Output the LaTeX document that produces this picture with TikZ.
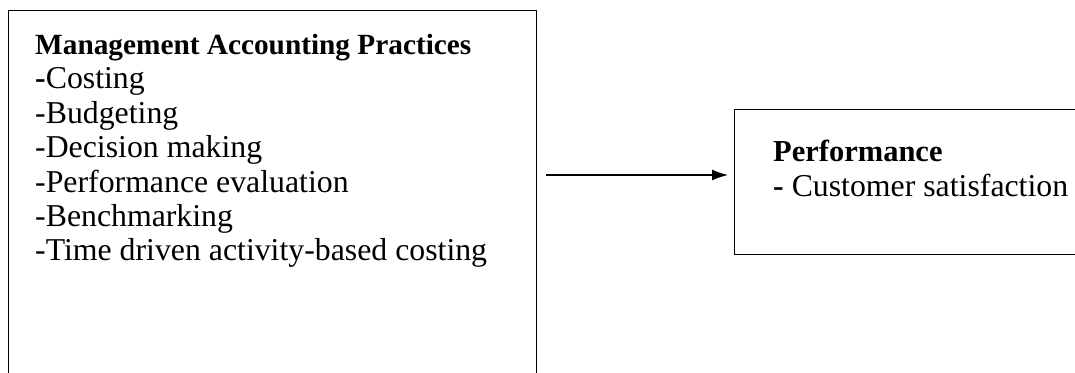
\documentclass[tikz,border=0pt]{standalone}
\usepackage{fontspec}
\setmainfont{Liberation Serif}
\usetikzlibrary{arrows.meta}
\tikzset{
  box/.style={draw, line width=1.3pt, anchor=north west, inner sep=0pt},
  boxtext/.style={anchor=north west, align=left, inner sep=0pt,
    font=\fontsize{31.8}{34.4}\selectfont}
}
\newcommand{\headline}[2]{{\fontsize{#1}{34.4}\selectfont\bfseries #2}}
\begin{document}
\begin{tikzpicture}[x=1pt,y=-1pt]
  \useasboundingbox (0,0) rectangle (1075,372);
  \clip (0,0) rectangle (1075,372);
  % boxes, cut by the page edge as in the original
  \node [box, minimum width=528pt, minimum height=420pt] (mac) at (8,10) {};
  \node [box, minimum width=400pt, minimum height=145pt] (perf) at (734,109) {};
  \node [boxtext] (maclist) at (35,34) {\headline{29.3}{Management Accounting Practices}\\
    \textbf{-}Costing\\
    -Budgeting\\
    -Decision making\\
    -Performance evaluation\\
    -Benchmarking\\
    -Time driven activity-based costing};
  \node [boxtext] (perflist) at (773,140) {\headline{30.5}{Performance}\\
    \textbf{-} Customer satisfaction};
  \coordinate (start) at (546,175);
  \draw [-{Latex[length=16pt,width=11pt]}, line width=1.3pt] (start) -- ([xshift=-6pt]perf.west |- start);
\end{tikzpicture}
\end{document}
